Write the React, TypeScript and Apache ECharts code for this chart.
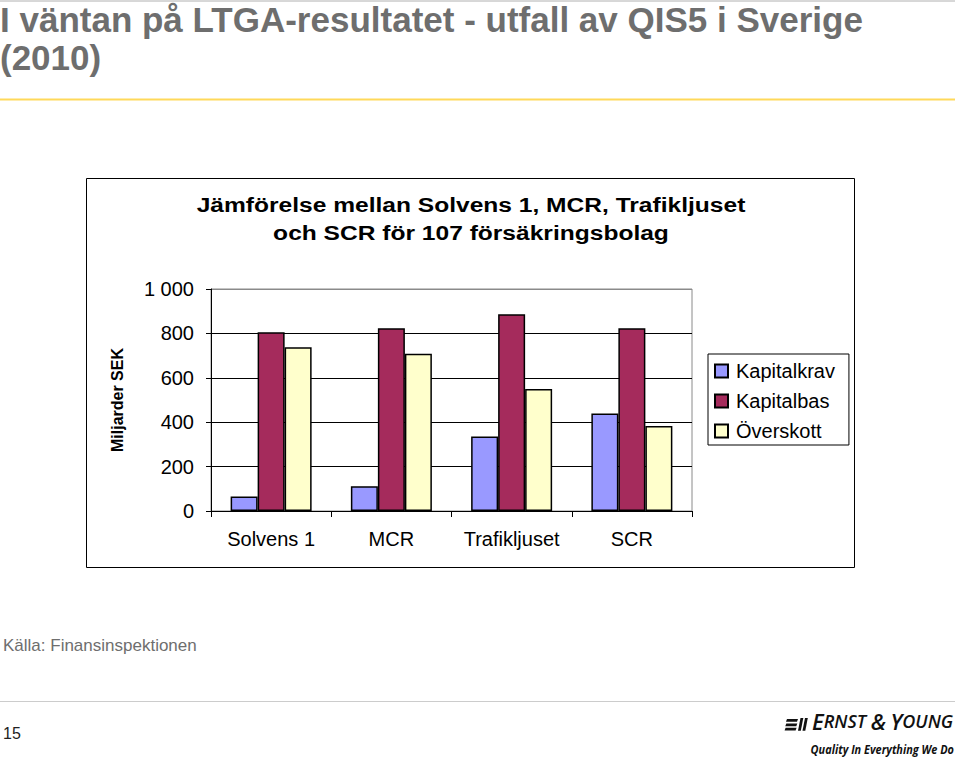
import React, { useEffect, useRef } from "react";
import * as echarts from "echarts";

const categories = ["Solvens 1", "MCR", "Trafikljuset", "SCR"];
const seriesNames = ["Kapitalkrav", "Kapitalbas", "Överskott"];
const kapitalkrav = [65, 112, 336, 439];
const kapitalbas = [805, 823, 886, 823];
const overskott = [738, 708, 549, 383];
const seriesColors = ["#9999FF", "#A52B5C", "#FFFFCC"];
const yMin = 0;
const yMax = 1000;
const yStep = 200;

const slideTitle1 = "I väntan på LTGA-resultatet - utfall av QIS5 i Sverige";
const slideTitle2 = "(2010)";
const chartTitle1 = "Jämförelse mellan Solvens 1, MCR, Trafikljuset";
const chartTitle2 = "och SCR för 107 försäkringsbolag";
const yName = "Miljarder SEK";
const source = "Källa: Finansinspektionen";
const pageNo = "15";

function fmt(v: number): string {
  const s = String(Math.round(v));
  return s.replace(/\B(?=(\d{3})+(?!\d))/g, " ");
}

export default function App() {
  const ref = useRef<HTMLDivElement>(null);
  useEffect(() => {
    if (!ref.current) return;
    const chart = echarts.init(ref.current, null, { renderer: "svg" });
    const font = "'Liberation Sans', Arial, sans-serif";
    const data = [kapitalkrav, kapitalbas, overskott];
    const series = seriesNames.map((name, i) => ({
      name,
      type: "bar",
      data: data[i],
      barWidth: 27,
      barGap: "0%",
      itemStyle: { color: seriesColors[i], borderColor: "#000", borderWidth: 1.5 },
      emphasis: { disabled: true },
    }));
    const bar = (x: number, y: number, w: number, h: number, sk: number) => ({
      type: "polygon",
      shape: { points: [[x + sk, y], [x + w + sk, y], [x + w, y + h], [x, y + h]] },
      style: { fill: "#111" },
    });
    chart.setOption({
      animation: false,
      backgroundColor: "#fff",
      grid: {
        left: 211,
        top: 289,
        width: 481,
        height: 222,
        show: true,
        borderColor: "#8a8a8a",
        borderWidth: 1,
        containLabel: false,
      },
      xAxis: {
        type: "category",
        data: categories,
        axisLine: { lineStyle: { color: "#000", width: 1 } },
        axisTick: { show: true, interval: 0, length: 6, lineStyle: { color: "#000" } },
        axisLabel: { color: "#000", fontSize: 20, fontFamily: font, margin: 18, interval: 0 },
      },
      yAxis: {
        type: "value",
        min: yMin,
        max: yMax,
        interval: yStep,
        axisLine: { show: true, lineStyle: { color: "#000", width: 1 } },
        axisTick: { show: true, length: 5, lineStyle: { color: "#000" } },
        axisLabel: {
          color: "#000",
          fontSize: 20,
          fontFamily: font,
          margin: 17,
          formatter: (v: number) => fmt(v),
        },
        splitLine: {
          show: true,
          lineStyle: { color: ["#000", "#000", "#000", "#000", "#000", "#8a8a8a"], width: 1 },
        },
      },
      legend: {
        orient: "vertical",
        left: 708,
        top: 354,
        padding: [7, 14, 4, 6],
        itemGap: 10,
        itemWidth: 13,
        itemHeight: 13,
        icon: "rect",
        borderColor: "#000",
        borderWidth: 1,
        backgroundColor: "#fff",
        selectedMode: false,
        itemStyle: { borderColor: "#000", borderWidth: 2 },
        textStyle: { color: "#000", fontSize: 20, fontFamily: font, padding: [0, 0, 0, 3] },
        data: seriesNames,
      },
      series,
      graphic: [
        { type: "line", shape: { x1: 0, y1: 1, x2: 955, y2: 1 }, style: { stroke: "#b0b0b0", lineWidth: 1 } },
        {
          type: "text",
          x: 0,
          y: 19,
          style: { text: slideTitle1, font: `bold 35px ${font}`, fill: "#6e6e6e", verticalAlign: "middle" },
        },
        {
          type: "text",
          x: 0,
          y: 57,
          style: { text: slideTitle2, font: `bold 35px ${font}`, fill: "#6e6e6e", verticalAlign: "middle" },
        },
        { type: "line", shape: { x1: 0, y1: 99.5, x2: 955, y2: 99.5 }, style: { stroke: "#FFD95A", lineWidth: 2 } },
        {
          type: "rect",
          shape: { x: 86.5, y: 178.5, width: 768, height: 389 },
          style: { fill: "none", stroke: "#000", lineWidth: 1 },
          z: -1,
        },
        {
          type: "text",
          x: 471,
          y: 205,
          scaleX: 1.17,
          style: { text: chartTitle1, font: `bold 21px ${font}`, fill: "#000", align: "center", verticalAlign: "middle" },
        },
        {
          type: "text",
          x: 471,
          y: 233,
          scaleX: 1.17,
          style: { text: chartTitle2, font: `bold 21px ${font}`, fill: "#000", align: "center", verticalAlign: "middle" },
        },
        {
          type: "text",
          x: 117,
          y: 400,
          rotation: Math.PI / 2,
          style: { text: yName, font: `bold 16px ${font}`, fill: "#000", align: "center", verticalAlign: "middle" },
        },
        {
          type: "text",
          x: 3,
          y: 645,
          style: { text: source, font: `17px ${font}`, fill: "#6e6e6e", verticalAlign: "middle" },
        },
        { type: "line", shape: { x1: 0, y1: 701.5, x2: 955, y2: 701.5 }, style: { stroke: "#cccccc", lineWidth: 1 } },
        {
          type: "text",
          x: 3,
          y: 733,
          style: { text: pageNo, font: `16px ${font}`, fill: "#222", verticalAlign: "middle" },
        },
        bar(786, 719, 11, 2.8, 1),
        bar(785.3, 723.4, 11, 2.8, 1),
        bar(784.6, 727.8, 11, 2.8, 1),
        bar(798, 718, 2.8, 12.8, 2.5),
        bar(802.5, 718, 2.8, 12.8, 2.5),
        {
          type: "text",
          x: 812,
          y: 732,
          style: {
            text: "{a|E}{b|RNST }{a|&}{b| }{a|Y}{b|OUNG}",
            fill: "#111",
            verticalAlign: "bottom",
            rich: {
              a: { font: `italic 600 22px 'Open Sans', sans-serif`, fill: "#111" },
              b: { font: `italic 600 18px 'Open Sans', sans-serif`, fill: "#111" },
            },
          },
        },
        {
          type: "text",
          x: 954,
          y: 749,
          scaleX: 0.84,
          style: {
            text: "Quality In Everything We Do",
            font: `italic bold 13px 'Open Sans', sans-serif`,
            fill: "#111",
            align: "right",
            verticalAlign: "middle",
          },
        },
      ],
    });
    return () => chart.dispose();
  }, []);
  return (
    <div
      ref={ref}
      style={{ position: "absolute", left: 0, top: 0, width: 960, height: 757, background: "#fff" }}
    />
  );
}
